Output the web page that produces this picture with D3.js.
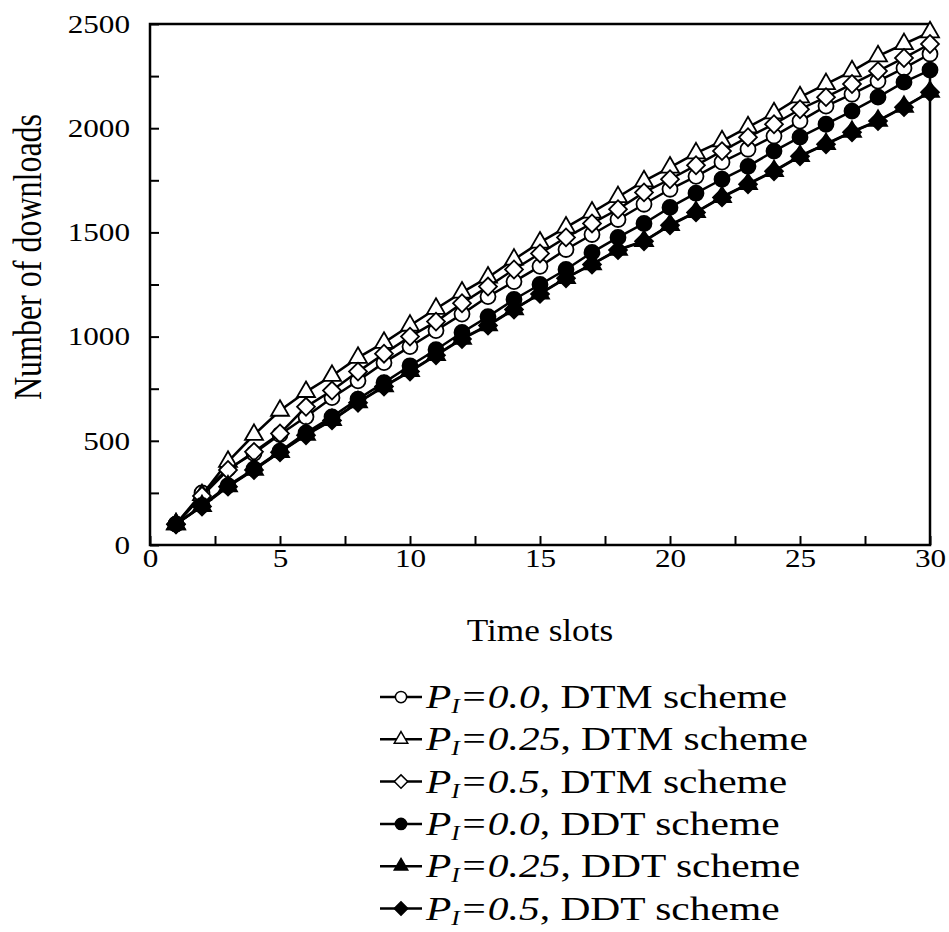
<!DOCTYPE html>
<html>
<head>
<meta charset="utf-8">
<script src="https://cdn.jsdelivr.net/npm/d3@7"></script>
<style>
  body { margin: 0; background: #fff; }
</style>
</head>
<body>
<svg id="chart" width="949" height="932"></svg>
<script>
// values
const slots = d3.range(1, 31)

const dtm00  = [100, 250, 365, 440, 530, 615, 707, 788, 875, 952, 1029, 1108, 1192, 1264, 1337,
                1418, 1490, 1562, 1635, 1707, 1769, 1837, 1899, 1962, 2034, 2106, 2163, 2226, 2288, 2356]
const dtm025 = [100, 240, 400, 529, 645, 735, 812, 899, 971, 1053, 1134, 1212, 1284, 1370, 1452,
                1524, 1596, 1670, 1746, 1812, 1880, 1938, 2005, 2072, 2149, 2212, 2274, 2346, 2404, 2461]
const dtm05  = [100, 235, 360, 447, 535, 663, 741, 832, 918, 1000, 1072, 1160, 1240, 1322, 1399,
                1476, 1543, 1611, 1692, 1755, 1822, 1890, 1957, 2019, 2091, 2149, 2212, 2274, 2337, 2404]
const ddt00  = [100, 190, 285, 365, 450, 538, 615, 700, 779, 860, 937, 1020, 1096, 1178, 1250,
                1322, 1404, 1476, 1543, 1620, 1688, 1755, 1817, 1890, 1957, 2019, 2082, 2149, 2221, 2279]
const ddt025 = [100, 187, 282, 362, 447, 530, 600, 685, 762, 835, 912, 990, 1055, 1132, 1207,
                1282, 1348, 1417, 1459, 1536, 1598, 1670, 1733, 1795, 1867, 1925, 1983, 2036, 2103, 2175]
const ddt05  = [100, 185, 280, 360, 445, 527, 598, 683, 760, 832, 910, 988, 1053, 1130, 1205,
                1280, 1346, 1415, 1457, 1534, 1596, 1668, 1731, 1793, 1865, 1923, 1981, 2034, 2101, 2173]

const xTicks = [0, 5, 10, 15, 20, 25, 30]
const yTicks = [0, 500, 1000, 1500, 2000, 2500]

const series = [
  { p: '0.0',  scheme: 'DTM', values: dtm00,  shape: 'circle',   fill: '#fff' },
  { p: '0.25', scheme: 'DTM', values: dtm025, shape: 'triangle', fill: '#fff' },
  { p: '0.5',  scheme: 'DTM', values: dtm05,  shape: 'diamond',  fill: '#fff' },
  { p: '0.0',  scheme: 'DDT', values: ddt00,  shape: 'circle',   fill: '#000' },
  { p: '0.25', scheme: 'DDT', values: ddt025, shape: 'triangle', fill: '#000' },
  { p: '0.5',  scheme: 'DDT', values: ddt05,  shape: 'diamond',  fill: '#000' }
]

const serif = '"Liberation Serif", "Times New Roman", serif'
const margin = { top: 24, left: 150 }
const width = 780
const height = 521
// the picture is a bit wider than tall, text glyphs are stretched sideways
const stretch = 1.2

const svg = d3.select('#chart')
  .attr('font-family', serif)

const chart = svg.append('g')
  .attr('transform', `translate(${margin.left}, ${margin.top})`)

const xScale = d3.scaleLinear().domain([0, 30]).range([0, width])
const yScale = d3.scaleLinear().domain([0, 2500]).range([height, 0])

// marker shapes, sizes in px
function markerPath(shape, k) {
  if (shape === 'circle') return d3.symbol(d3.symbolCircle, Math.PI * (7.5 * k) ** 2)()
  if (shape === 'triangle') return d3.symbol(d3.symbolTriangle, 140 * k * k)()
  return d3.symbol(d3.symbolSquare, 160 * k * k)()
}
const rot = s => s === 'diamond' ? ' rotate(45)' : ''

// x axis, ticks pointing inward
const xAxis = chart.append('g')
  .attr('transform', `translate(0, ${height})`)
  .call(d3.axisBottom(xScale)
    .tickValues(d3.range(0, 30.1, 2.5))
    .tickSizeInner(-9).tickSizeOuter(0).tickPadding(4)
    .tickFormat(d => xTicks.includes(d) ? d : ''))
xAxis.select('.domain').remove()

const yAxis = chart.append('g')
  .call(d3.axisLeft(yScale)
    .tickValues(d3.range(0, 2501, 250))
    .tickSizeInner(-9).tickSizeOuter(0).tickPadding(20 / stretch)
    .tickFormat(d => yTicks.includes(d) ? d : ''))
yAxis.select('.domain').remove()

chart.selectAll('.tick line').attr('stroke', '#000').attr('stroke-width', 2)
chart.selectAll('.tick text')
  .attr('fill', '#000')
  .attr('font-size', 26)
  .attr('font-family', serif)
  .attr('transform', `scale(${stretch}, 1)`)

chart.append('rect')
  .attr('width', width)
  .attr('height', height)
  .attr('fill', 'none')
  .attr('stroke', '#000')
  .attr('stroke-width', 2.5)

const line = d3.line()
  .x((d, i) => xScale(slots[i]))
  .y(d => yScale(d))

series.forEach(s => {
  chart.append('path')
    .datum(s.values)
    .attr('fill', 'none')
    .attr('stroke', '#000')
    .attr('stroke-width', 2.5)
    .attr('d', line)

  chart.append('g')
    .selectAll('path')
    .data(s.values)
    .join('path')
    .attr('transform', (d, i) => `translate(${xScale(slots[i])}, ${yScale(d)})` + rot(s.shape))
    .attr('d', markerPath(s.shape, 1))
    .attr('fill', s.fill)
    .attr('stroke', '#000')
    .attr('stroke-width', 1.8)
})

// axis titles
svg.append('text')
  .attr('transform', 'translate(540, 641) scale(1.1, 1)')
  .attr('text-anchor', 'middle')
  .attr('font-size', 32)
  .text('Time slots')

svg.append('text')
  .attr('transform', 'translate(41, 257) rotate(-90) scale(1, 1.25)')
  .attr('text-anchor', 'middle')
  .attr('font-size', 32)
  .text('Number of downloads')

// legend
const legend = svg.append('g')
  .attr('transform', 'translate(380, 697)')

series.forEach((s, i) => {
  const row = legend.append('g')
    .attr('transform', `translate(0, ${i * 42.3})`)
  row.append('line')
    .attr('x1', 0).attr('x2', 42)
    .attr('stroke', '#000')
    .attr('stroke-width', 2.5)
  row.append('path')
    .attr('transform', 'translate(21, 0)' + rot(s.shape))
    .attr('d', markerPath(s.shape, 0.75))
    .attr('fill', s.fill)
    .attr('stroke', '#000')
    .attr('stroke-width', 1.5)
  const t = row.append('text')
    .attr('transform', 'translate(46, 11) scale(1.22, 1)')
    .attr('font-size', 34)
  t.append('tspan').attr('font-style', 'italic').text('P')
  t.append('tspan').attr('font-style', 'italic').attr('font-size', 21)
    .attr('dy', 5).text('I')
  t.append('tspan').attr('font-style', 'italic').attr('dy', -5).text('=' + s.p)
  t.append('tspan').text(`, ${s.scheme} scheme`)
})
</script>
</body>
</html>
